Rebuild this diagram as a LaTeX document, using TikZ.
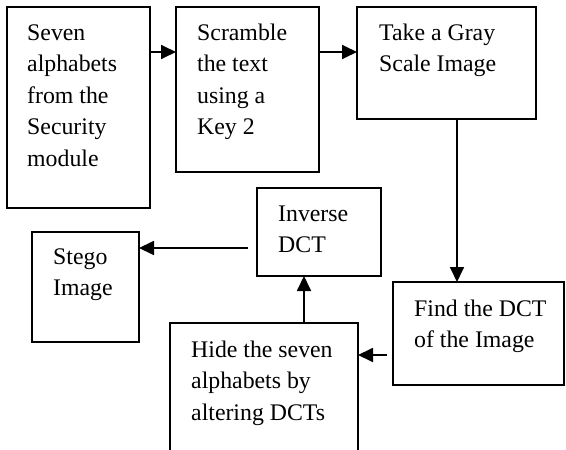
\documentclass[tikz,border=0pt]{standalone}
\usepackage{fontspec}
\setmainfont{Liberation Serif}
\usetikzlibrary{arrows.meta}
\begin{document}
\begin{tikzpicture}[x=1pt,y=-1pt,
  box/.style={draw, line width=1.8pt, rectangle, inner sep=0pt, outer sep=0pt, anchor=north west},
  txt/.style={anchor=north west, inner sep=0pt, align=left, font=\fontsize{23.8pt}{31.5pt}\selectfont},
  arr/.style={line width=1.8pt, -{Triangle[length=15pt,width=14pt]}}]
\clip (0,0) rectangle (566,450);
\fill[white] (0,0) rectangle (566,450);
% boxes
\node[box, minimum width=143pt, minimum height=201pt] (b1) at (7,7) {};
\node[box, minimum width=143pt, minimum height=165pt] (b2) at (176,7) {};
\node[box, minimum width=179pt, minimum height=112pt] (b3) at (357,7) {};
\node[box, minimum width=124pt, minimum height=88pt] (inv) at (257,188) {};
\node[box, minimum width=107pt, minimum height=110pt] (steg) at (32,232) {};
\node[box, minimum width=171pt, minimum height=103pt] (find) at (393,282) {};
\node[box, minimum width=188pt, minimum height=160pt] (hide) at (170,323) {};
% texts
\node[txt] (t1) at (27,18) {\strut Seven\\alphabets\\from the\\Security\\module};
\node[txt] (t2) at (197,18) {\strut Scramble\\the text\\using a\\Key 2};
\node[txt] (t3) at (379,18) {\strut Take a Gray\\Scale Image};
\node[txt] (t4) at (278,199) {\strut Inverse\\DCT};
\node[txt] (t5) at (53,242) {\strut Stego\\Image};
\node[txt] (t6) at (414,294) {\strut Find the DCT\\of the Image};
\node[txt] (t7) at (191,335) {\strut Hide the seven\\alphabets by\\altering DCTs};
% helper coordinates
\coordinate (r1) at (0,52);
\coordinate (c1) at (457,0);
\coordinate (r2) at (0,355);
\coordinate (c2) at (304,0);
\coordinate (r3) at (0,248);
% connectors
\draw[arr] (b1.east |- r1) -- (b2.west |- r1);
\draw[arr] (b2.east |- r1) -- (b3.west |- r1);
\draw[arr] (b3.south -| c1) -- (find.north -| c1);
\draw[arr, shorten <=6pt] (find.west |- r2) -- (hide.east |- r2);
\draw[arr] (hide.north -| c2) -- (inv.south -| c2);
\draw[arr, shorten <=9pt] (inv.west |- r3) -- (steg.east |- r3);
\end{tikzpicture}
\end{document}
